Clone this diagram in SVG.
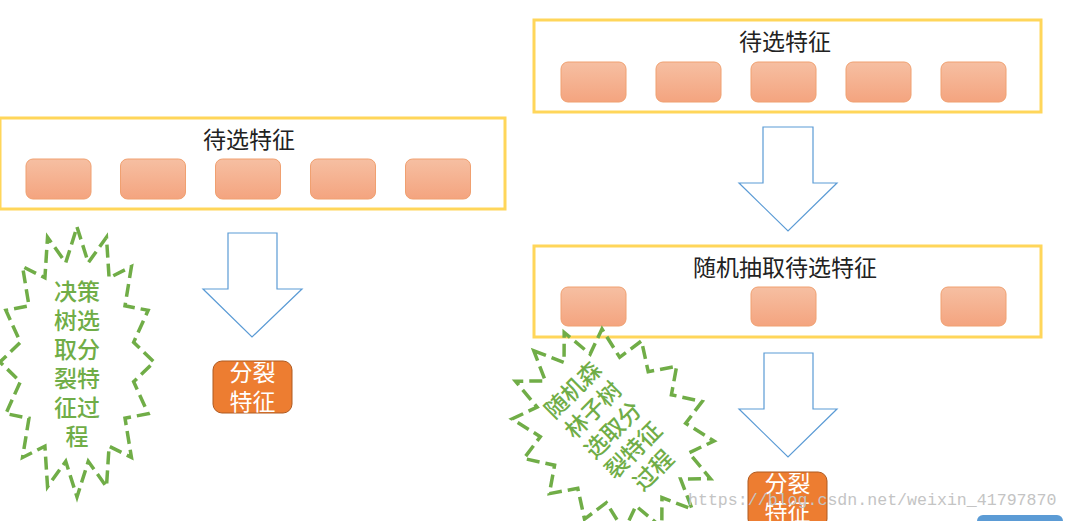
<svg xmlns="http://www.w3.org/2000/svg" width="1069" height="521" viewBox="0 0 1069 521">
<defs>
<linearGradient id="gr" x1="0" y1="0" x2="0" y2="1">
<stop offset="0" stop-color="#F6BFA2"/>
<stop offset="1" stop-color="#F4A47F"/>
</linearGradient>
<style>
.frame{fill:none;stroke:#FFD65A;stroke-width:3}
.feat{fill:url(#gr);stroke:#F0A070;stroke-width:1}
.title{font-family:"Noto Sans CJK SC","Noto Sans",sans-serif;font-size:23px;fill:#222;text-anchor:middle}
.arrow{fill:#fff;stroke:#5B9BD5;stroke-width:1.2}
.split{fill:#ED7D31;stroke:#AE5A21;stroke-width:1}
.splitt{font-family:"Noto Sans CJK SC","Noto Sans",sans-serif;font-size:23px;fill:#fff;text-anchor:middle}
.star{fill:none;stroke:#70AD47;stroke-width:3.5;stroke-dasharray:13 6}
.gt{font-family:"Noto Sans CJK SC","Noto Sans",sans-serif;font-size:23px;font-weight:500;fill:#70AD47;text-anchor:middle}
.wm{font-family:"Liberation Mono",monospace;font-size:16.6px;fill:#C4C4C4}
</style>
</defs>
<rect width="1069" height="521" fill="#fff"/>

<g id="left-candidates">
<rect class="frame" x="0" y="118" width="505" height="91"/>
<text class="title" x="249" y="148">待选特征</text>
<rect class="feat" x="26" y="159" width="65" height="40" rx="7"/>
<rect class="feat" x="120.5" y="159" width="65" height="40" rx="7"/>
<rect class="feat" x="215.5" y="159" width="65" height="40" rx="7"/>
<rect class="feat" x="310.5" y="159" width="65" height="40" rx="7"/>
<rect class="feat" x="405.5" y="159" width="65" height="40" rx="7"/>
</g>

<g id="right-candidates">
<rect class="frame" x="534" y="20" width="507" height="92"/>
<text class="title" x="785" y="50">待选特征</text>
<rect class="feat" x="561" y="62" width="65" height="40" rx="7"/>
<rect class="feat" x="656" y="62" width="65" height="40" rx="7"/>
<rect class="feat" x="751" y="62" width="65" height="40" rx="7"/>
<rect class="feat" x="846" y="62" width="65" height="40" rx="7"/>
<rect class="feat" x="941" y="62" width="65" height="40" rx="7"/>
</g>

<g id="random-candidates">
<rect class="frame" x="534" y="246" width="507" height="91"/>
<text class="title" x="785" y="276">随机抽取待选特征</text>
<rect class="feat" x="561" y="287" width="65" height="39" rx="7"/>
<rect class="feat" x="751" y="287" width="65" height="39" rx="7"/>
<rect class="feat" x="941" y="287" width="65" height="39" rx="7"/>
</g>

<g id="connectors">
<polygon class="arrow" points="228,233 277,233 277,289 302,289 252,337 203,289 228,289"/>
<polygon class="arrow" points="763,127 813,127 813,183 837,183 788,231 739,183 763,183"/>
<polygon class="arrow" points="764,353 813,353 813,409 837,409 788,457 739,409 764,409"/>
</g>

<g id="left-split">
<rect class="split" x="213" y="361" width="79" height="52" rx="9"/>
<text class="splitt" x="252.5" y="381">分裂</text>
<text class="splitt" x="252.5" y="410">特征</text>
</g>

<g id="right-split">
<rect class="split" x="748" y="472" width="79" height="56" rx="9"/>
<text class="splitt" x="787.5" y="492">分裂</text>
<text class="splitt" x="787.5" y="520">特征</text>
</g>

<g id="left-star" transform="translate(77,362)">
<polygon class="star" points="0,-135 11.27,-99.31 29.47,-124.73 32.09,-84.19 54.45,-95.46 48.02,-56.25 71.14,-51.66 56.64,-19.75 77,0 56.64,19.75 71.14,51.66 48.02,56.25 54.45,95.46 32.09,84.19 29.47,124.73 11.27,99.31 0,135 -11.27,99.31 -29.47,124.73 -32.09,84.19 -54.45,95.46 -48.02,56.25 -71.14,51.66 -56.64,19.75 -77,0 -56.64,-19.75 -71.14,-51.66 -48.02,-56.25 -54.45,-95.46 -32.09,-84.19 -29.47,-124.73 -11.27,-99.31"/>
<text class="gt" x="0" y="-62">决策</text>
<text class="gt" x="0" y="-33">树选</text>
<text class="gt" x="0" y="-4">取分</text>
<text class="gt" x="0" y="25">裂特</text>
<text class="gt" x="0" y="54">征过</text>
<text class="gt" x="0" y="83">程</text>
</g>

<g id="right-star" transform="translate(613,430) rotate(-45)">
<polygon class="star" points="0,-112 13.17,-82.39 34.44,-103.48 37.5,-69.85 63.64,-79.2 56.13,-46.67 83.15,-42.86 66.2,-16.39 90,0 66.2,16.39 83.15,42.86 56.13,46.67 63.64,79.2 37.5,69.85 34.44,103.48 13.17,82.39 0,112 -13.17,82.39 -34.44,103.48 -37.5,69.85 -63.64,79.2 -56.13,46.67 -83.15,42.86 -66.2,16.39 -90,0 -66.2,-16.39 -83.15,-42.86 -56.13,-46.67 -63.64,-79.2 -37.5,-69.85 -34.44,-103.48 -13.17,-82.39"/>
<text class="gt" x="0" y="-48.6">随机森</text>
<text class="gt" x="0" y="-20.1">林子树</text>
<text class="gt" x="0" y="8.4">选取分</text>
<text class="gt" x="0" y="36.9">裂特征</text>
<text class="gt" x="0" y="65.4">过程</text>
</g>

<rect x="977" y="515" width="86" height="20" rx="6" fill="#5B9BD5"/>
<text class="wm" x="688" y="505">https://blog.csdn.net/weixin_41797870</text>
</svg>
